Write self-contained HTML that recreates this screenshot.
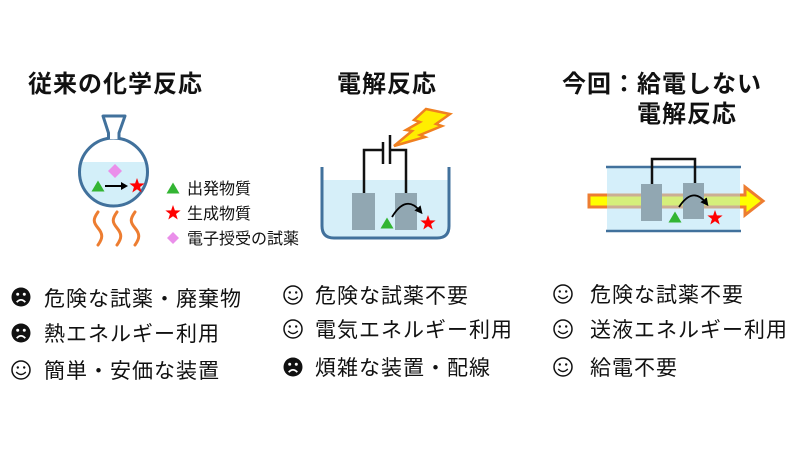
<!DOCTYPE html>
<html><head><meta charset="utf-8">
<style>
html,body{margin:0;padding:0;background:#fff;}
svg{display:block;}
text{font-family:"Liberation Sans","Noto Sans CJK JP",sans-serif;fill:#111;}
.t{font-size:24px;font-weight:bold;letter-spacing:1px;}
.l{font-size:16px;}
.b{font-size:21px;letter-spacing:1px;}
</style></head>
<body>
<svg width="800" height="450" viewBox="0 0 800 450" xmlns="http://www.w3.org/2000/svg">
<defs>
  <polygon id="star" points="0,-8 1.88,-2.59 7.61,-2.47 3.04,0.99 4.7,6.47 0,3.2 -4.7,6.47 -3.04,0.99 -7.61,-2.47 -1.88,-2.59" fill="#ff0000"/>
  <polygon id="tri" points="0,-5.5 6.5,5.5 -6.5,5.5" fill="#33b533"/>
  <clipPath id="flaskclip"><circle cx="113.5" cy="172" r="34"/></clipPath>
  <marker id="ah" markerWidth="8" markerHeight="8" refX="4" refY="4" orient="auto" markerUnits="userSpaceOnUse">
    <path d="M0,0 L8,4 L0,8 Z" fill="#000"/>
  </marker>
  <g id="smile">
    <circle cx="0" cy="0" r="9" fill="none" stroke="#111" stroke-width="1.5"/>
    <circle cx="-3.2" cy="-2.5" r="1.2" fill="#111"/>
    <circle cx="3.2" cy="-2.5" r="1.2" fill="#111"/>
    <path d="M-4.8,2 Q0,7 4.8,2" fill="none" stroke="#111" stroke-width="1.4"/>
  </g>
  <g id="frown">
    <circle cx="0" cy="0" r="9.5" fill="#111"/>
    <circle cx="-3.3" cy="-2.8" r="1.5" fill="#fff"/>
    <circle cx="3.3" cy="-2.8" r="1.5" fill="#fff"/>
    <path d="M-4.3,5.2 Q0,0.5 4.3,5.2" fill="none" stroke="#fff" stroke-width="1.8"/>
  </g>
</defs>

<!-- Titles -->
<text class="t" x="28" y="92">従来の化学反応</text>
<text class="t" x="337" y="92">電解反応</text>
<text class="t" x="562" y="92">今回：給電しない</text>
<text class="t" x="637" y="122">電解反応</text>

<!-- Panel 1: flask -->
<circle cx="113.5" cy="172" r="34" fill="#fff"/>
<rect x="78" y="162" width="72" height="50" fill="#d3eff9" clip-path="url(#flaskclip)"/>
<circle cx="113.5" cy="172" r="34" fill="none" stroke="#41719c" stroke-width="3"/>
<path d="M108.5,139 L108.5,133 L103,116 L125,116 L119,133 L119,139" fill="#fff" stroke="#41719c" stroke-width="3" stroke-linejoin="round"/>
<polygon points="115,164 122,171 115,178 108,171" fill="#ea8fea"/>
<use href="#tri" x="98" y="186"/>
<line x1="105" y1="186" x2="122" y2="186" stroke="#000" stroke-width="2"/>
<path d="M121,182 L128,186 L121,190 Z" fill="#000"/>
<use href="#star" x="137" y="186"/>
<g fill="none" stroke="#ed7d31" stroke-width="3" stroke-linecap="round">
  <path d="M98,212 C93,219 93,222 98,228 S103,238 98,245"/>
  <path d="M117,212 C112,219 112,222 117,228 S122,238 117,245"/>
  <path d="M135,212 C130,219 130,222 135,228 S140,238 135,245"/>
</g>
<!-- legend -->
<use href="#tri" x="173" y="188"/>
<text class="l" x="187" y="194">出発物質</text>
<use href="#star" x="173" y="213"/>
<text class="l" x="187" y="219">生成物質</text>
<polygon points="173,232 179,238 173,244 167,238" fill="#ea8fea"/>
<text class="l" x="187" y="244">電子授受の試薬</text>

<!-- Panel 2: beaker -->
<path d="M322,180 L449,180 L449,226 Q449,238 437,238 L334,238 Q322,238 322,226 Z" fill="#d6eff9"/>
<path d="M322,167 L322,226 Q322,238 334,238 L437,238 Q449,238 449,226 L449,167" fill="none" stroke="#41719c" stroke-width="3"/>
<g fill="none" stroke="#111" stroke-width="2.5">
  <path d="M364,193 L364,150 L383,150"/>
  <path d="M390,150 L406,150 L406,193"/>
  <line x1="383" y1="142" x2="383" y2="164"/>
  <line x1="390" y1="135" x2="390" y2="164"/>
</g>
<rect x="352" y="193" width="23" height="37" fill="#91a7b2"/>
<rect x="395" y="193" width="22" height="37" fill="#91a7b2"/>
<path d="M392,217 Q406,194 420,211" fill="none" stroke="#000" stroke-width="1.8" marker-end="url(#ah)"/>
<use href="#tri" x="387" y="223"/>
<use href="#star" x="428" y="223"/>
<polygon points="426,109 450,114 436,124 442,126 420,135 425,137 394,146 412,131 406,130 420,122 414,120" fill="#ffee00" stroke="#f08020" stroke-width="2.5" stroke-linejoin="miter"/>

<!-- Panel 3: flow cell -->
<polygon points="589,195 745,195 745,187 763,201 745,215 745,207 589,207" fill="#ffff00" stroke="#ed7d31" stroke-width="3"/>
<rect x="607" y="167" width="133" height="64" fill="#abdff5" opacity="0.5"/>
<line x1="606" y1="167" x2="741" y2="167" stroke="#41719c" stroke-width="2.5"/>
<line x1="606" y1="231" x2="741" y2="231" stroke="#41719c" stroke-width="2.5"/>
<path d="M652,184 L652,159 L695,159 L695,183" fill="none" stroke="#111" stroke-width="2.5"/>
<rect x="641" y="184" width="21" height="37" fill="#91a7b2"/>
<rect x="683" y="183" width="21" height="36" fill="#91a7b2"/>
<path d="M679,207 Q693,186 706,203" fill="none" stroke="#000" stroke-width="1.8" marker-end="url(#ah)"/>
<use href="#tri" x="675" y="217"/>
<use href="#star" x="715" y="218"/>

<!-- Bottom lists -->
<use href="#frown" x="21" y="297"/>
<text class="b" x="44" y="306">危険な試薬・廃棄物</text>
<use href="#frown" x="21" y="333"/>
<text class="b" x="44" y="341">熱エネルギー利用</text>
<use href="#smile" x="21" y="370"/>
<text class="b" x="44" y="378">簡単・安価な装置</text>

<use href="#smile" x="293" y="295"/>
<text class="b" x="315" y="303">危険な試薬不要</text>
<use href="#smile" x="293" y="329"/>
<text class="b" x="315" y="337">電気エネルギー利用</text>
<use href="#frown" x="293" y="367"/>
<text class="b" x="315" y="375">煩雑な装置・配線</text>

<use href="#smile" x="563" y="294"/>
<text class="b" x="590" y="302">危険な試薬不要</text>
<use href="#smile" x="563" y="329"/>
<text class="b" x="590" y="337">送液エネルギー利用</text>
<use href="#smile" x="563" y="367"/>
<text class="b" x="590" y="375">給電不要</text>
</svg>
</body></html>
